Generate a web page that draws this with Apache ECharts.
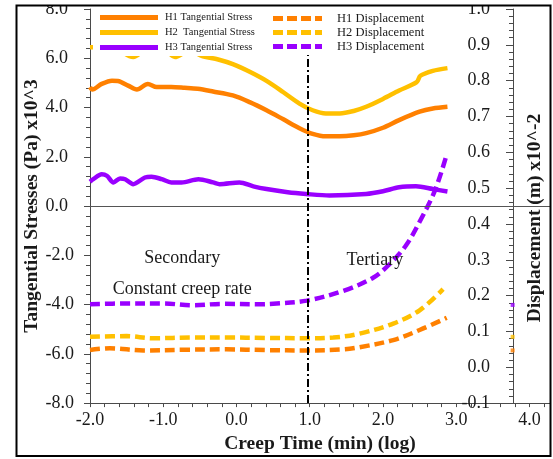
<!DOCTYPE html>
<html>
<head>
<meta charset="utf-8">
<script src="https://cdn.jsdelivr.net/npm/echarts@6/dist/echarts.min.js"></script>
<style>
  html, body { margin: 0; padding: 0; background: #fff; }
  #chart { width: 553px; height: 459px; }
</style>
</head>
<body>
<div id="chart"></div>
<script>
const FONT = "'Liberation Serif', 'Times New Roman', serif";

// Series names
const stressNames = ['H1 Tangential Stress', 'H2  Tangential Stress', 'H3 Tangential Stress'];
const dispNames = ['H1 Displacement', 'H2 Displacement', 'H3 Displacement'];
const colors = ['#FF8000', '#FFC000', '#9900FF'];

// Tangential stress (Pa x10^3) vs log creep time (min)
const h1Stress = [[-2.0,4.83],[-1.97,4.73],[-1.84,4.96],[-1.70,5.09],[-1.62,5.08],[-1.48,4.89],[-1.36,4.73],[-1.21,4.96],[-1.09,4.83],[-0.89,4.83],[-0.71,4.80],[-0.53,4.76],[-0.32,4.65],[-0.05,4.49],[0.18,4.22],[0.41,3.89],[0.64,3.52],[0.86,3.16],[1.04,2.93],[1.22,2.83],[1.41,2.83],[1.60,2.87],[1.77,2.96],[2.00,3.18],[2.22,3.49],[2.50,3.83],[2.68,3.96],[2.88,4.03]];
const h2Stress = [[-2.0,6.45],[-1.85,6.45],[-1.65,6.4],[-1.41,6.05],[-1.2,6.4],[-1.0,6.38],[-0.84,6.05],[-0.65,6.3],[-0.46,6.08],[-0.25,5.95],[-0.05,5.76],[0.18,5.45],[0.41,5.08],[0.64,4.62],[0.86,4.16],[1.04,3.89],[1.22,3.76],[1.41,3.76],[1.60,3.86],[1.77,4.03],[2.00,4.35],[2.22,4.69],[2.46,5.03],[2.51,5.29],[2.68,5.49],[2.88,5.60]];
const h3Stress = [[-2.0,0.99],[-1.955,1.09],[-1.84,1.29],[-1.77,1.23],[-1.68,0.96],[-1.59,1.12],[-1.52,1.09],[-1.41,0.89],[-1.25,1.16],[-1.16,1.19],[-1.02,1.09],[-0.89,0.96],[-0.75,0.96],[-0.52,1.09],[-0.32,0.96],[-0.23,0.89],[0.04,0.96],[0.23,0.80],[0.41,0.69],[0.70,0.56],[0.95,0.49],[1.27,0.43],[1.77,0.49],[2.00,0.60],[2.22,0.76],[2.45,0.80],[2.68,0.69],[2.88,0.59]];

// Displacement (m x10^-2) vs log creep time (min)
const h1Disp = [[-2.0,0.0485],[-1.73,0.053],[-1.27,0.047],[-0.7,0.049],[-0.14,0.050],[0.4,0.048],[0.96,0.047],[1.46,0.050],[1.68,0.056],[2.14,0.076],[2.5,0.104],[2.87,0.138]];
const h2Disp = [[-2.0,0.085],[-1.5,0.087],[-1.14,0.081],[-0.6,0.083],[-0.14,0.083],[0.4,0.082],[0.96,0.081],[1.32,0.083],[1.68,0.094],[2.14,0.122],[2.5,0.159],[2.82,0.218]];
const h3Disp = [[-2.0,0.176],[-1.5,0.178],[-1.0,0.178],[-0.6,0.173],[-0.2,0.177],[0.3,0.176],[0.55,0.178],[0.96,0.186],[1.46,0.2135],[1.865,0.25],[2.1,0.29],[2.32,0.342],[2.5,0.406],[2.71,0.494],[2.87,0.594]];

// Small displacement markers sitting on the secondary axis
const axisMarkX = 3.77;
const axisMarkVals = [0.047, 0.085, 0.174];

// Phase boundary and phase notes
const phaseBoundary = 0.97;
const notes = [
  { text: 'Secondary', x: -0.74, y: -2.12 },
  { text: 'Constant creep rate', x: -0.74, y: -3.36 },
  { text: 'Tertiary', x: 1.89, y: -2.2 }
];

// Axis ranges
const xMin = -2, xMax = 4.28, xStep = 0.2;
const yMin = -8, yMax = 8, yStep = 2;
const y2Min = -0.1, y2Max = 1.0, y2Step = 0.1;

const axisColor = '#4a4a4a';
const textColor = '#1a1a1a';

const chart = echarts.init(document.getElementById('chart'), null, { renderer: 'canvas' });

const stressData = [h1Stress, h2Stress, h3Stress];
const dispData = [h1Disp, h2Disp, h3Disp];

const series = [];
stressData.forEach((d, i) => {
  series.push({
    name: stressNames[i], type: 'line', data: d, yAxisIndex: 0,
    symbol: 'none', smooth: 0.3, z: 2,
    itemStyle: { color: colors[i] },
    lineStyle: { color: colors[i], width: 4.5 }
  });
});
dispData.forEach((d, i) => {
  series.push({
    name: dispNames[i], type: 'line', data: d, yAxisIndex: 1,
    symbol: 'none', smooth: 0.35, z: 2,
    itemStyle: { color: colors[i] },
    lineStyle: { color: colors[i], width: 4.5, type: [10, 5] }
  });
});
series.push({
  name: 'axis marks', type: 'scatter', yAxisIndex: 1, symbol: 'rect', symbolSize: 4, z: 3,
  data: axisMarkVals.map((v, i) => ({ value: [axisMarkX, v], itemStyle: { color: colors[i] } })),
  silent: true
});
// reference lines: zero stress line and phase boundary
series.push({
  name: 'guides', type: 'line', data: [], yAxisIndex: 0, z: 3, silent: true,
  markLine: {
    z: 3, silent: true, symbol: 'none', label: { show: false },
    data: [
      { yAxis: 0, lineStyle: { color: '#555', width: 1, type: 'solid' } },
      { xAxis: phaseBoundary, lineStyle: { color: '#000', width: 2, type: [8, 3, 2, 3] } }
    ]
  }
});

const dashIcon = 'path://M0,0h10v5h-10z M14,0h10v5h-10z M28,0h10v5h-10z M42,0h7v5h-7z';

const option = {
  animation: false,
  backgroundColor: '#fff',
  textStyle: { fontFamily: FONT },
  grid: { left: 90, right: 3, top: 4, bottom: 55, show: false },
  legend: [
    {
      data: stressNames, orient: 'vertical', left: 93, top: 6, z: 6,
      padding: [6, 17, 3, 7], backgroundColor: '#fff', selectedMode: false,
      icon: 'rect', itemWidth: 58, itemHeight: 5, itemGap: 4,
      itemStyle: { borderWidth: 0 },
      textStyle: { fontFamily: FONT, fontSize: 10.5, lineHeight: 10, color: textColor, padding: [0, 0, 0, 2] }
    },
    {
      data: dispNames, orient: 'vertical', left: 270, top: 6, z: 6,
      padding: [6, 30, 2, 3], backgroundColor: '#fff', selectedMode: false,
      icon: dashIcon, itemWidth: 49, itemHeight: 5, itemGap: 1,
      itemStyle: { borderWidth: 0 },
      textStyle: { fontFamily: FONT, fontSize: 12.5, lineHeight: 10, color: textColor, padding: [0, 0, 0, 10] }
    }
  ],
  xAxis: {
    type: 'value', min: xMin, max: xMax, interval: xStep,
    name: 'Creep Time (min) (log)', nameLocation: 'middle', nameGap: 28,
    nameTextStyle: { fontFamily: FONT, fontSize: 19.5, fontWeight: 'bold', color: textColor },
    axisLine: { show: true, onZero: false, lineStyle: { color: axisColor, width: 1 } },
    axisTick: { show: true, length: 4, lineStyle: { color: axisColor } },
    splitLine: { show: false },
    axisLabel: {
      margin: 8, fontFamily: FONT, fontSize: 18, color: textColor,
      formatter: v => {
        const r = Math.round(v);
        return (Math.abs(v - r) < 1e-6 && r <= 4) ? r.toFixed(1) : '';
      }
    }
  },
  yAxis: [
    {
      type: 'value', min: yMin, max: yMax, interval: yStep, position: 'left',
      name: 'Tangential Stresses (Pa) x10^3', nameLocation: 'middle', nameGap: 48, nameMoveOverlap: false,
      nameTextStyle: { fontFamily: FONT, fontSize: 19.5, fontWeight: 'bold', color: textColor },
      axisLine: { show: true, onZero: false, lineStyle: { color: axisColor, width: 1 } },
      axisTick: { show: true, length: 6, lineStyle: { color: axisColor } },
      minorTick: { show: true, splitNumber: 5, length: 4, lineStyle: { color: axisColor } },
      splitLine: { show: false },
      axisLabel: {
        margin: 16, fontFamily: FONT, fontSize: 18, color: textColor,
        formatter: v => v >= 0 ? '{p|' + v.toFixed(1) + '}' : v.toFixed(1),
        rich: { p: { fontFamily: FONT, fontSize: 18, color: textColor, padding: [0, 6, 0, 0] } }
      }
    },
    {
      type: 'value', min: y2Min, max: y2Max, interval: y2Step, position: 'right', offset: -37,
      name: 'Displacement (m) x10^-2', nameLocation: 'middle', nameGap: 12, nameRotate: 90, nameMoveOverlap: false,
      nameTextStyle: { fontFamily: FONT, fontSize: 19.5, fontWeight: 'bold', color: textColor, padding: [0, 24, 0, 0] },
      axisLine: { show: true, onZero: false, lineStyle: { color: axisColor, width: 1 } },
      axisTick: { show: true, inside: true, length: 7, lineStyle: { color: axisColor } },
      minorTick: { show: true, splitNumber: 5, length: 4, lineStyle: { color: axisColor } },
      splitLine: { show: false },
      axisLabel: {
        inside: true, margin: 23, fontFamily: FONT, fontSize: 18, color: textColor,
        formatter: v => v.toFixed(1)
      }
    }
  ],
  series: series
};

chart.setOption(option);

// Phase notes placed in data space, plus the figure frame
const graphics = notes.map(n => {
  const p = chart.convertToPixel({ xAxisIndex: 0, yAxisIndex: 0 }, [n.x, n.y]);
  return {
    type: 'text', x: p[0], y: p[1], z: 50,
    style: { text: n.text, fill: textColor, font: '18px ' + FONT, textAlign: 'center', textVerticalAlign: 'middle' }
  };
});
graphics.push({ type: 'rect', z: 90, shape: { x: 0, y: 0, width: 553, height: 5 }, style: { fill: '#fff' } });
graphics.push({ type: 'rect', z: 91, shape: { x: 16.5, y: 5.5, width: 534, height: 450.5 }, style: { fill: 'none', stroke: '#000', lineWidth: 2 } });

chart.setOption({ graphic: graphics });
</script>
</body>
</html>
